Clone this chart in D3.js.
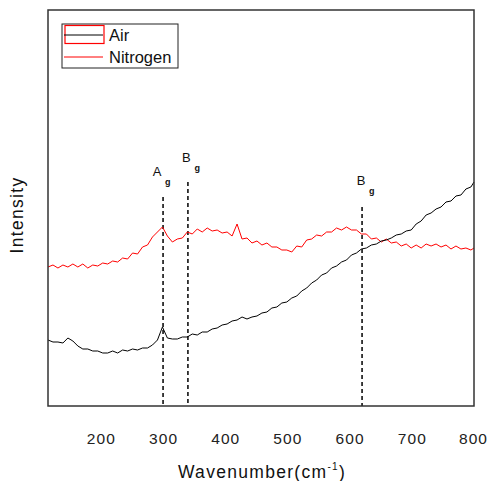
<!DOCTYPE html>
<html><head><meta charset="utf-8">
<script src="https://cdn.jsdelivr.net/npm/d3@7"></script>
<style>body{margin:0;background:#fff;}svg{display:block;font-family:"Liberation Sans",Arial,sans-serif;}</style>
</head><body><div id="chart"></div>
<script>
const wavenumbers = [115,123,131,139,147,155,163,171,179,187,195,203,211,219,227,235,243,251,259,267,275,283,291,299,307,315,323,331,339,347,355,363,371,379,387,395,403,411,419,427,435,443,451,459,467,475,483,491,499,507,515,523,531,539,547,555,563,571,579,587,595,603,611,619,627,635,643,651,659,667,675,683,691,699,707,715,723,731,739,747,755,763,771,779,787,795,800];
const airValues = [66,64,64,63,68,65,60,57,57,55,55,53,53,55,53,56,55,57,56,58,58,61,66,79,68,67,67,69,69,72,71,74,74,77,78,81,82,85,86,89,87,89,90,93,94,98,99,103,104,108,110,115,118,123,126,131,133,138,140,144,146,151,153,157,158,161,162,165,166,168,171,172,175,176,182,185,191,193,197,199,204,205,210,211,217,219,224];
const nitrogenValues = [139,141,138,141,139,142,139,142,138,141,140,143,142,145,144,148,147,153,152,159,161,169,174,179,170,164,167,168,174,172,177,174,178,175,176,173,174,170,182,167,168,163,165,161,163,159,159,156,156,154,160,159,166,167,171,170,174,174,178,176,179,176,176,172,172,167,168,164,167,163,164,160,162,158,161,158,162,160,162,159,161,157,160,157,158,156,158];
const xTicks = [200,300,400,500,600,700,800];
const peaks = [{w:300, top:209, main:"A", sub:"g", labelY:230, dx:-6},{w:340, top:224, main:"B", sub:"g", labelY:244, dx:-1.5},{w:620, top:199, main:"B", sub:"g", labelY:221, dx:-1}];
const seriesNames = ["Air","Nitrogen"];
const seriesColors = ["#000000","#ff0000"];

const W=488,H=481;
const m={left:48,right:14,top:10,bottom:75};
const svg=d3.select("#chart").append("svg").attr("width",W).attr("height",H);
const x=d3.scaleLinear().domain([115,800]).range([m.left,W-m.right]);
const y=d3.scaleLinear().domain([0,396]).range([H-m.bottom,m.top]);

// dashed reference lines and peak labels
peaks.forEach(p=>{
  svg.append("line").attr("x1",x(p.w)).attr("x2",x(p.w)).attr("y1",y(p.top)).attr("y2",y(0))
    .attr("stroke","#000").attr("stroke-width",1.5).attr("stroke-dasharray","4,3");
  svg.append("text").attr("x",x(p.w)+p.dx).attr("y",y(p.labelY)).attr("text-anchor","middle")
    .attr("font-size",13).attr("fill","#111").text(p.main);
  svg.append("text").attr("x",x(p.w)+p.dx+8).attr("y",y(p.labelY)+9).attr("font-size",9).attr("font-weight","bold").attr("fill","#111").text(p.sub);
});

const line=d3.line().x((d,i)=>x(wavenumbers[i])).y(d=>y(d));
svg.append("path").datum(nitrogenValues).attr("d",line).attr("fill","none").attr("stroke",seriesColors[1]).attr("stroke-width",1);
svg.append("path").datum(airValues).attr("d",line).attr("fill","none").attr("stroke",seriesColors[0]).attr("stroke-width",1);

// frame
svg.append("rect").attr("x",m.left).attr("y",m.top).attr("width",W-m.left-m.right).attr("height",H-m.top-m.bottom)
  .attr("fill","none").attr("stroke","#333").attr("stroke-width",1.5);

// x axis labels
const xa=svg.append("g").attr("transform",`translate(0,${H-m.bottom})`)
  .call(d3.axisBottom(x).tickValues(xTicks).tickSize(0).tickPadding(27));
xa.select(".domain").remove();
xa.selectAll("text").attr("font-size",15.5).attr("letter-spacing",1.1).attr("fill","#222").attr("font-family","Liberation Sans, Arial, sans-serif");
xa.selectAll(".tick").filter(d=>d===800).select("text").attr("dx",-1);

// axis titles
const xt=svg.append("text").attr("x",262).attr("y",478).attr("text-anchor","middle").attr("font-size",17.5).attr("letter-spacing",1.3).attr("fill","#111");
xt.append("tspan").text("Wavenumber(cm");
xt.append("tspan").attr("font-size",10).attr("dy",-8).text("-1");
xt.append("tspan").attr("dy",8).text(")");
svg.append("text").attr("transform","translate(23,215) rotate(-90)").attr("text-anchor","middle")
  .attr("font-size",17.5).attr("letter-spacing",1.3).attr("fill","#111").text("Intensity");

// legend
const lg=svg.append("g");
lg.append("rect").attr("x",62).attr("y",24).attr("width",116).attr("height",44).attr("fill","#fff").attr("stroke","#222").attr("stroke-width",1);
lg.append("rect").attr("x",65).attr("y",25.5).attr("width",39).attr("height",18).attr("fill","none").attr("stroke","#ff0000").attr("stroke-width",1.2);
lg.append("line").attr("x1",64).attr("x2",103).attr("y1",35).attr("y2",35).attr("stroke",seriesColors[0]).attr("stroke-width",1);
lg.append("line").attr("x1",64).attr("x2",103).attr("y1",57).attr("y2",57).attr("stroke",seriesColors[1]).attr("stroke-width",1);
lg.append("text").attr("x",109).attr("y",41).attr("font-size",16.5).attr("fill","#111").text(seriesNames[0]);
lg.append("text").attr("x",109).attr("y",63).attr("font-size",16.5).attr("fill","#111").text(seriesNames[1]);
</script></body></html>
